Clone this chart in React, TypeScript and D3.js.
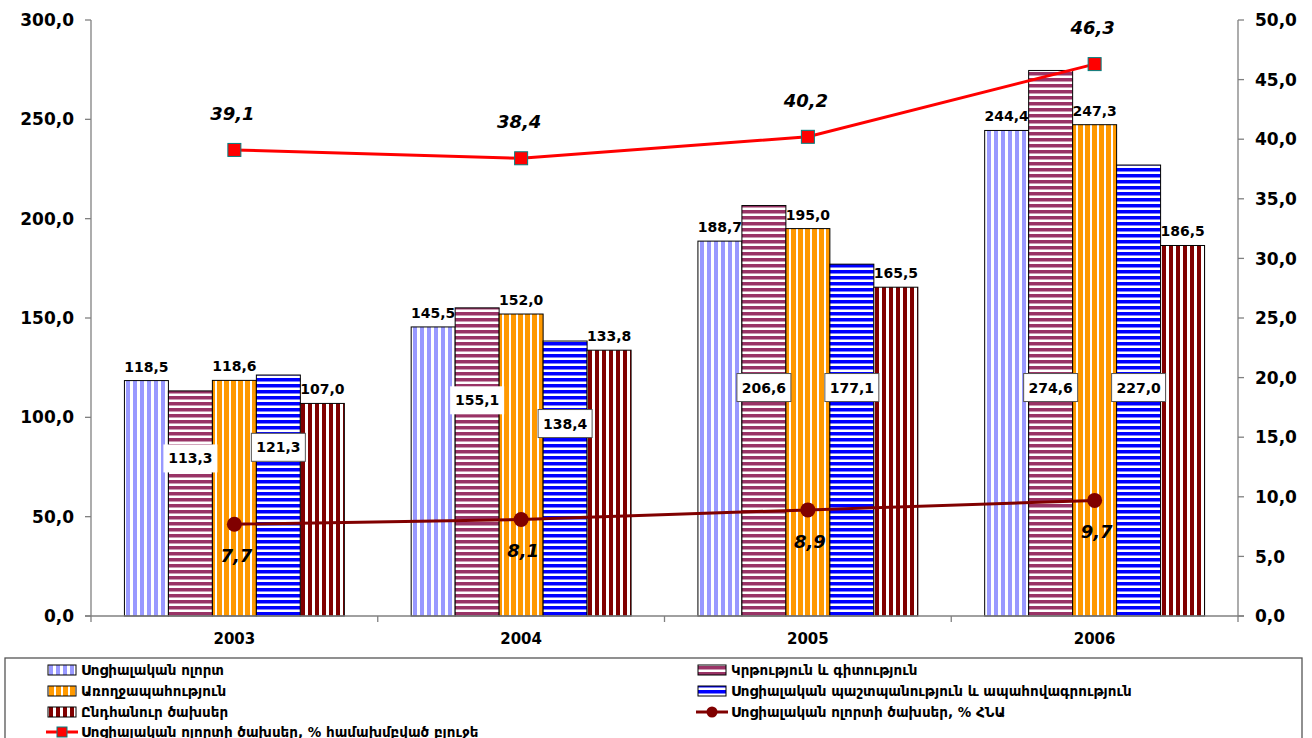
import React from "react";
import * as d3 from "d3";

const years = ["2003", "2004", "2005", "2006"];
const seriesNames = [
  "Սոցիալական ոլորտ",
  "Կրթություն և գիտություն",
  "Առողջապահություն",
  "Սոցիալական պաշտպանություն և ապահովագրություն",
  "Ընդհանուր ծախսեր",
];
const socialSphere = [118.5, 145.5, 188.7, 244.4];
const education = [113.3, 155.1, 206.6, 274.6];
const health = [118.6, 152.0, 195.0, 247.3];
const protection = [121.3, 138.4, 177.1, 227.0];
const general = [107.0, 133.8, 165.5, 186.5];
const lineBudgetName = "Սոցիալական ոլորտի ծախսեր, % համախմբված բյուջե";
const lineGdpName = "Սոցիալական ոլորտի ծախսեր, % ՀՆԱ";
const shareBudget = [39.1, 38.4, 40.2, 46.3];
const shareGdp = [7.7, 8.1, 8.9, 9.7];
const leftTicks = [0, 50, 100, 150, 200, 250, 300];
const rightTicks = [0, 5, 10, 15, 20, 25, 30, 35, 40, 45, 50];

const barSeries = [socialSphere, education, health, protection, general];
// which series put their label inside a white box
const boxedLabel = [false, true, false, true, false];
const patterns = [
  { id: "p0", color: "#9999FF", dir: "v", size: 7, band: 4 },
  { id: "p1", color: "#993366", dir: "h", size: 6, band: 3.5 },
  { id: "p2", color: "#FF9900", dir: "v", size: 7, band: 5 },
  { id: "p3", color: "#0000FF", dir: "h", size: 6, band: 3.5 },
  { id: "p4", color: "#800000", dir: "v", size: 7, band: 4 },
];

const fmt = (v: number) => d3.format(".1f")(v).replace(".", ",");
const font = "'DejaVu Sans', Arial, sans-serif";

export default function App() {
  const left = 91, right = 1238, top = 20, bottom = 616;

  const x0 = d3.scaleBand<string>().domain(years).range([left, right]);
  const x1 = d3
    .scaleBand<number>()
    .domain(d3.range(barSeries.length))
    .range([0, x0.bandwidth()])
    .paddingOuter(0.76);
  const yL = d3.scaleLinear().domain([0, 300]).range([bottom, top]);
  const yR = d3.scaleLinear().domain([0, 50]).range([bottom, top]);
  const cx = (i: number) => x0(years[i])! + x0.bandwidth() / 2;

  const lineGen = d3
    .line<number>()
    .x((_, i) => cx(i))
    .y((d) => yR(d));

  const legendItems = [
    { kind: "bar", s: 0, x: 48, y: 670 },
    { kind: "bar", s: 1, x: 698, y: 670 },
    { kind: "bar", s: 2, x: 48, y: 691 },
    { kind: "bar", s: 3, x: 698, y: 691 },
    { kind: "bar", s: 4, x: 48, y: 712 },
    { kind: "gdp", s: -1, x: 698, y: 712 },
    { kind: "budget", s: -1, x: 48, y: 732 },
  ];

  return (
    <svg
      width={1312}
      height={738}
      style={{ position: "absolute", left: 0, top: 0, background: "#fff" }}
      fontFamily={font}
    >
      <defs>
        {patterns.map((p) =>
          p.dir === "v" ? (
            <pattern key={p.id} id={p.id} patternUnits="userSpaceOnUse" width={p.size} height={10}>
              <rect width={p.size} height={10} fill="#fff" />
              <rect width={p.band} height={10} fill={p.color} />
            </pattern>
          ) : (
            <pattern key={p.id} id={p.id} patternUnits="userSpaceOnUse" width={10} height={p.size}>
              <rect width={10} height={p.size} fill="#fff" />
              <rect width={10} height={p.band} fill={p.color} />
            </pattern>
          )
        )}
      </defs>

      {/* bars */}
      {barSeries.map((vals, s) =>
        vals.map((v, i) => (
          <rect
            key={`b${s}-${i}`}
            x={x0(years[i])! + x1(s)!}
            y={yL(v)}
            width={x1.bandwidth()}
            height={bottom - yL(v)}
            fill={`url(#${patterns[s].id})`}
            stroke="#000"
            strokeWidth={1}
          />
        ))
      )}

      {/* axes */}
      <g stroke="#808080" strokeWidth={1.3}>
        <line x1={left} x2={left} y1={top} y2={bottom} />
        <line x1={right} x2={right} y1={top} y2={bottom} />
        <line x1={left - 6} x2={right + 6} y1={bottom} y2={bottom} />
        {leftTicks.map((t) => (
          <line key={`lt${t}`} x1={left - 6} x2={left} y1={yL(t)} y2={yL(t)} />
        ))}
        {rightTicks.map((t) => (
          <line key={`rt${t}`} x1={right} x2={right + 6} y1={yR(t)} y2={yR(t)} />
        ))}
        {years.map((yr) => (
          <line key={`xt${yr}`} x1={x0(yr)!} x2={x0(yr)!} y1={bottom} y2={bottom + 6} />
        ))}
        <line x1={right} x2={right} y1={bottom} y2={bottom + 6} />
      </g>
      {leftTicks.map((t) => (
        <text key={`ll${t}`} x={74} y={yL(t)} dy="0.36em" textAnchor="end" fontSize={17} fontWeight="bold">
          {fmt(t)}
        </text>
      ))}
      {rightTicks.map((t) => (
        <text key={`rl${t}`} x={1255} y={yR(t)} dy="0.36em" textAnchor="start" fontSize={17} fontWeight="bold">
          {fmt(t)}
        </text>
      ))}
      {years.map((yr) => (
        <text key={`xl${yr}`} x={x0(yr)! + x0.bandwidth() / 2} y={644} textAnchor="middle" fontSize={15} fontWeight="bold">
          {yr}
        </text>
      ))}

      {/* bar labels */}
      {barSeries.map((vals, s) =>
        vals.map((v, i) => {
          const bx = x0(years[i])! + x1(s)! + x1.bandwidth() / 2;
          if (!boxedLabel[s]) {
            return (
              <text key={`bl${s}-${i}`} x={bx} y={yL(v) - 9} textAnchor="middle" fontSize={14} fontWeight="bold">
                {fmt(v)}
              </text>
            );
          }
          const ly = yL(Math.min(v * 0.7, 115));
          return (
            <g key={`bl${s}-${i}`}>
              <rect x={bx - 27} y={ly - 14} width={54} height={28} fill="#fff" stroke={s === 3 || v > 200 ? "#555" : "none"} strokeWidth={1} />
              <text x={bx} y={ly} dy="0.36em" textAnchor="middle" fontSize={14} fontWeight="bold">
                {fmt(v)}
              </text>
            </g>
          );
        })
      )}

      {/* lines */}
      <path d={lineGen(shareGdp)!} fill="none" stroke="#800000" strokeWidth={3} />
      {shareGdp.map((v, i) => (
        <g key={`g${i}`}>
          <circle cx={cx(i)} cy={yR(v)} r={7.5} fill="#800000" />
          <text x={cx(i) + 2} y={yR(v) + 38} textAnchor="middle" fontSize={18} fontWeight="bold" fontStyle="italic">
            {fmt(v)}
          </text>
        </g>
      ))}
      <path d={lineGen(shareBudget)!} fill="none" stroke="#FF0000" strokeWidth={3} />
      {shareBudget.map((v, i) => (
        <g key={`r${i}`}>
          <rect x={cx(i) - 6.5} y={yR(v) - 6.5} width={13} height={13} fill="#FF0000" stroke="#008080" strokeWidth={1} />
          <text x={cx(i) - 2} y={yR(v) - 30} textAnchor="middle" fontSize={18} fontWeight="bold" fontStyle="italic">
            {fmt(v)}
          </text>
        </g>
      ))}

      {/* legend */}
      <rect x={5} y={658} width={1297} height={100} fill="#fff" stroke="#555" strokeWidth={1.3} />
      {legendItems.map((it, k) => {
        let swatch;
        let label;
        if (it.kind === "bar") {
          swatch = (
            <rect x={it.x} y={it.y - 5} width={28} height={10} fill={`url(#${patterns[it.s].id})`} stroke="#000" strokeWidth={1} />
          );
          label = seriesNames[it.s];
        } else if (it.kind === "gdp") {
          swatch = (
            <g>
              <line x1={it.x - 2} x2={it.x + 30} y1={it.y} y2={it.y} stroke="#800000" strokeWidth={3} />
              <circle cx={it.x + 14} cy={it.y} r={5.5} fill="#800000" />
            </g>
          );
          label = lineGdpName;
        } else {
          swatch = (
            <g>
              <line x1={it.x - 2} x2={it.x + 30} y1={it.y} y2={it.y} stroke="#FF0000" strokeWidth={3} />
              <rect x={it.x + 9} y={it.y - 5} width={10} height={10} fill="#FF0000" stroke="#008080" strokeWidth={1} />
            </g>
          );
          label = lineBudgetName;
        }
        return (
          <g key={`lg${k}`}>
            {swatch}
            <text x={it.x + 33} y={it.y} dy="0.36em" fontSize={13.5} fontWeight="bold">
              {label}
            </text>
          </g>
        );
      })}
    </svg>
  );
}
